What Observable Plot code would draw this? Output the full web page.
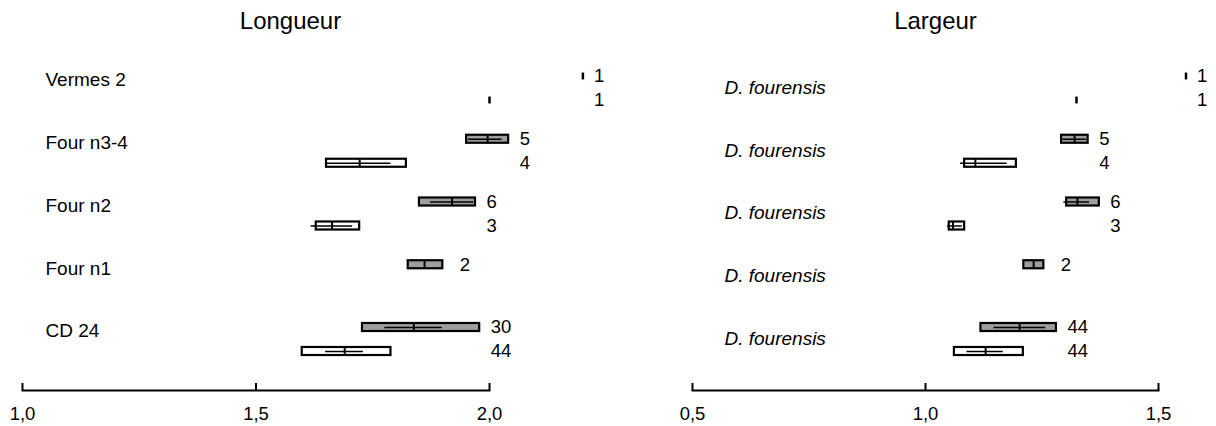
<!DOCTYPE html>
<html><head><meta charset="utf-8">
<script src="https://cdn.jsdelivr.net/npm/d3@7"></script>
<script src="https://cdn.jsdelivr.net/npm/@observablehq/plot@0.6"></script>
<style>
body{margin:0;background:#fff;font-family:"Liberation Sans",Arial,sans-serif;}
#wrap{position:relative;width:1216px;height:426px;overflow:hidden;background:#fff;}
.title{position:absolute;top:9px;width:300px;text-align:center;font-size:24px;line-height:24px;color:#000;}
.panel{position:absolute;top:44px;}
</style></head><body>
<div id="wrap">
<div class="title" style="left:140.5px">Longueur</div>
<div class="title" style="left:785.5px">Largeur</div>
<div class="panel" id="left" style="left:0"></div>
<div class="panel" id="right" style="left:608px"></div>
</div>
<script>
// ---- categories / labels
const groups = ["Vermes 2", "Four n3-4", "Four n2", "Four n1", "CD 24"];
const widthRowLabels = ["D. fourensis", "D. fourensis", "D. fourensis", "D. fourensis", "D. fourensis"];
const lengthTicks = [1.0, 1.5, 2.0];
const widthTicks = [0.5, 1.0, 1.5];

// ---- Longueur (length): grey series (upper row) and white series (lower row)
const lengthGrayMin  = [2.200, 1.951, 1.850, 1.826, 1.728];
const lengthGrayMax  = [2.200, 2.041, 1.970, 1.900, 1.979];
const lengthGrayMean = [2.200, 1.996, 1.920, 1.861, 1.838];
const lengthGrayLo   = [null, 1.955, 1.874, null, 1.776];
const lengthGrayHi   = [null, 2.027, 1.966, null, 1.899];
const lengthGrayN    = [1, 5, 6, 2, 30];

const lengthWhiteMin  = [2.000, 1.651, 1.629, null, 1.599];
const lengthWhiteMax  = [2.000, 1.822, 1.722, null, 1.789];
const lengthWhiteMean = [2.000, 1.722, 1.663, null, 1.690];
const lengthWhiteLo   = [null, 1.653, 1.618, null, 1.649];
const lengthWhiteHi   = [null, 1.789, 1.707, null, 1.730];
const lengthWhiteN    = [1, 4, 3, null, 44];

// ---- Largeur (width)
const widthGrayMin  = [1.559, 1.292, 1.303, 1.211, 1.119];
const widthGrayMax  = [1.559, 1.349, 1.373, 1.254, 1.281];
const widthGrayMean = [1.559, 1.320, 1.326, 1.232, 1.202];
const widthGrayLo   = [null, 1.295, 1.297, null, 1.147];
const widthGrayHi   = [null, 1.345, 1.352, null, 1.258];
const widthGrayN    = [1, 5, 6, 2, 44];

const widthWhiteMin  = [1.324, 1.084, 1.051, null, 1.062];
const widthWhiteMax  = [1.324, 1.195, 1.084, null, 1.210];
const widthWhiteMean = [1.324, 1.107, 1.059, null, 1.129];
const widthWhiteLo   = [null, 1.075, 1.047, null, 1.089];
const widthWhiteHi   = [null, 1.175, 1.079, null, 1.167];
const widthWhiteN    = [1, 4, 3, null, 44];

const PAIR_GAP = 0.3825;   // offset of lower row within a group (y units)
const BOX_H = 0.064;       // half box height
const TICK_H = 0.055;      // half height of single-value ticks
const FONT = "'Liberation Sans', Arial, sans-serif";
const comma = d => d.toFixed(1).replace(".", ",");

function buildRows(g, w) {
  const rows = [];
  groups.forEach((name, i) => {
    const labelX = Math.max(g.max[i] ?? -Infinity, w.max[i] ?? -Infinity);
    [[g, "gray", 0], [w, "white", PAIR_GAP]].forEach(([s, kind, off]) => {
      if (s.n[i] == null) return;
      rows.push({
        group: name, gi: i, kind, y: i + off,
        min: s.min[i], max: s.max[i], mean: s.mean[i],
        lo: s.lo[i], hi: s.hi[i], n: s.n[i], labelX
      });
    });
  });
  return rows;
}

function panel(rows, labels, opts) {
  const boxes = rows.filter(d => d.n > 1);
  const singles = rows.filter(d => d.n === 1);
  const lines = boxes.filter(d => d.lo != null);
  const rowLabels = labels.map((t, i) => ({t, y: i + opts.labelOffset}));
  return Plot.plot({
    width: 608, height: 382,
    marginLeft: opts.ml, marginRight: 608 - opts.xr, marginTop: 0, marginBottom: 43,
    style: {fontFamily: FONT, fontSize: "17px", color: "#000", background: "transparent", overflow: "visible"},
    x: {domain: opts.domain, range: [opts.ml, opts.xr], axis: null},
    y: {domain: [0, 4], range: [32, 283], axis: null},
    marks: [
      Plot.rect(boxes, {x1: "min", x2: "max", y1: d => d.y - BOX_H, y2: d => d.y + BOX_H,
        fill: d => d.kind === "gray" ? "#9e9e9e" : "#ffffff", stroke: "#000", strokeWidth: 2.2}),
      Plot.ruleY(lines, {y: "y", x1: "lo", x2: "hi", stroke: "#000", strokeWidth: 1.5}),
      Plot.ruleX(boxes, {x: "mean", y1: d => d.y - BOX_H, y2: d => d.y + BOX_H, stroke: "#000", strokeWidth: 2}),
      Plot.ruleX(singles, {x: "mean", y1: d => d.y - TICK_H, y2: d => d.y + TICK_H, stroke: "#000", strokeWidth: 2.5}),
      Plot.text(rows.filter(d => d.gi !== 3), {x: "labelX", y: "y", text: d => String(d.n), textAnchor: "start", dx: 11, fontSize: 18.5, fill: "#000"}),
      Plot.text(rows.filter(d => d.gi === 3), {x: "labelX", y: "y", text: d => String(d.n), textAnchor: "start", dx: 17, fontSize: 18.5, fill: "#000"}),
      Plot.text(rowLabels, {y: "y", text: "t", frameAnchor: "left", dx: opts.labelDx, textAnchor: "start",
        fontSize: 19, fontStyle: opts.italic ? "italic" : "normal", fill: "#000"}),
      // axis: baseline, upward ticks and comma-decimal labels
      Plot.frame({anchor: "bottom", dy: 7, stroke: "#000", strokeWidth: 2}),
      Plot.tickX(opts.ticks, {x: d => d, insetTop: 332, dy: 7, stroke: "#000", strokeWidth: 2}),
      Plot.text(opts.ticks, {x: d => d, text: comma, frameAnchor: "bottom", lineAnchor: "top", dy: 23.5, fontSize: 18.5, fill: "#000"})
    ]
  });
}

const lengthRows = buildRows(
  {min: lengthGrayMin, max: lengthGrayMax, mean: lengthGrayMean, lo: lengthGrayLo, hi: lengthGrayHi, n: lengthGrayN},
  {min: lengthWhiteMin, max: lengthWhiteMax, mean: lengthWhiteMean, lo: lengthWhiteLo, hi: lengthWhiteHi, n: lengthWhiteN});
const widthRows = buildRows(
  {min: widthGrayMin, max: widthGrayMax, mean: widthGrayMean, lo: widthGrayLo, hi: widthGrayHi, n: widthGrayN},
  {min: widthWhiteMin, max: widthWhiteMax, mean: widthWhiteMean, lo: widthWhiteLo, hi: widthWhiteHi, n: widthWhiteN});

document.getElementById("left").append(panel(lengthRows, groups,
  {ml: 22, xr: 489, domain: [1.0, 2.0], ticks: lengthTicks, labelDx: 23, labelOffset: 0.06, italic: false}));
document.getElementById("right").append(panel(widthRows, widthRowLabels,
  {ml: 84, xr: 550, domain: [0.5, 1.5], ticks: widthTicks, labelDx: 32, labelOffset: 0.18, italic: true}));
</script>
</body></html>
